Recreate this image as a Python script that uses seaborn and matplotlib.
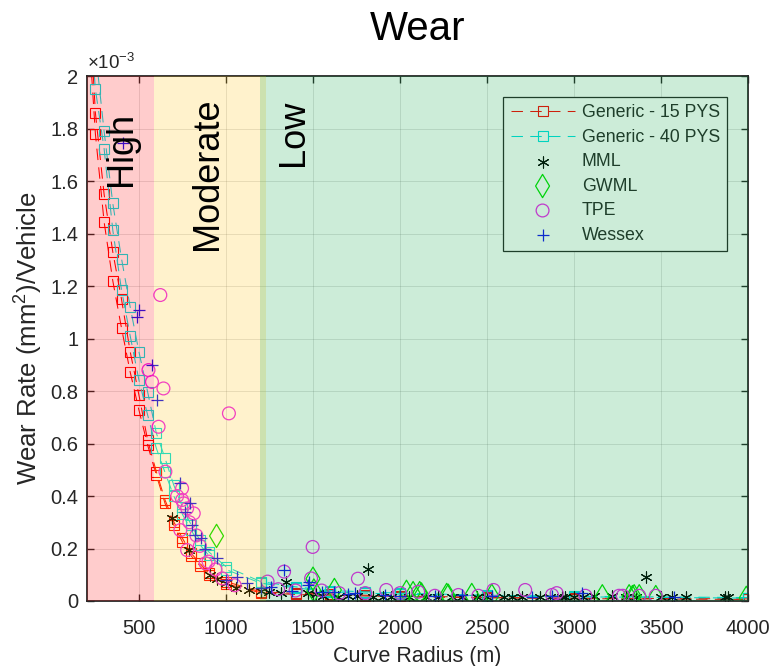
import matplotlib
matplotlib.use('Agg')
import matplotlib.pyplot as plt
import seaborn as sns
import numpy as np

# Generic curves (radius m, wear rate in 1e-3 mm^2/vehicle), two parallel curves each
gen_radius = [200, 250, 300, 350, 400, 450, 500, 550, 600, 650, 700, 750, 800, 850, 900,
              1000, 1200, 1400, 1600, 1800, 2000, 2500, 3000, 4000]
gen15_upper = [2.45, 1.86, 1.55, 1.33, 1.15, 0.95, 0.785, 0.613, 0.493, 0.385, 0.302, 0.239,
               0.182, 0.144, 0.106, 0.074, 0.035, 0.029, 0.027, 0.022, 0.019, 0.014, 0.011, 0.008]
gen15_lower = [2.30, 1.78, 1.445, 1.22, 1.04, 0.872, 0.728, 0.594, 0.48, 0.372, 0.29, 0.225,
               0.172, 0.135, 0.098, 0.066, 0.031, 0.025, 0.022, 0.019, 0.016, 0.012, 0.009, 0.006]
gen40_upper = [2.60, 2.10, 1.79, 1.515, 1.305, 1.12, 0.95, 0.797, 0.64, 0.544, 0.442, 0.359,
               0.29, 0.232, 0.188, 0.131, 0.074, 0.054, 0.04, 0.035, 0.03, 0.022, 0.018, 0.013]
gen40_lower = [2.40, 1.95, 1.724, 1.413, 1.185, 1.01, 0.842, 0.709, 0.582, 0.49, 0.40, 0.33,
               0.27, 0.215, 0.175, 0.12, 0.068, 0.05, 0.035, 0.03, 0.026, 0.02, 0.016, 0.011]

mml_x = [690, 787, 911, 950, 998, 1056, 1132, 1200, 1250, 1315, 1344, 1469, 1520, 1560, 1643,
         1700, 1750, 1816, 1845, 1900, 1950, 2050, 2150, 2220, 2300, 2354, 2440, 2500, 2600,
         2643, 2700, 2806, 2860, 2931, 2950, 3000, 3050, 3114, 3219, 3300, 3354, 3412, 3500,
         3560, 3642, 3864, 3883]
mml_y = [0.315, 0.194, 0.099, 0.085, 0.067, 0.048, 0.042, 0.04, 0.035, 0.03, 0.074, 0.03, 0.025,
         0.02, 0.016, 0.02, 0.018, 0.121, 0.016, 0.016, 0.016, 0.016, 0.016, 0.016, 0.015, 0.016,
         0.016, 0.015, 0.015, 0.016, 0.015, 0.016, 0.015, 0.016, 0.016, 0.015, 0.015, 0.02, 0.02,
         0.015, 0.016, 0.093, 0.014, 0.014, 0.016, 0.016, 0.016]

gwml_x = [946, 1500, 1505, 1623, 2037, 2075, 2113, 2123, 2268, 2277, 2412, 2527, 3162, 3316,
          3335, 3345, 3374, 3469, 3989]
gwml_y = [0.248, 0.085, 0.04, 0.042, 0.035, 0.03, 0.03, 0.025, 0.023, 0.02, 0.023, 0.02, 0.018,
          0.018, 0.015, 0.018, 0.018, 0.015, 0.012]

tpe_x = [555, 575, 613, 623, 641, 652, 720, 738, 748, 748, 757, 777, 777, 790, 815, 830, 850,
         883, 900, 940, 979, 1017, 1050, 1239, 1300, 1334, 1400, 1489, 1498, 1550, 1650, 1758,
         1800, 1921, 2000, 2104, 2200, 2335, 2450, 2537, 2719, 2873, 2900, 3065, 3258, 3280,
         3374, 3469]
tpe_y = [0.88, 0.835, 0.664, 1.166, 0.81, 0.493, 0.40, 0.27, 0.429, 0.385, 0.372, 0.353, 0.194,
         0.30, 0.334, 0.25, 0.21, 0.144, 0.15, 0.12, 0.086, 0.715, 0.06, 0.074, 0.045, 0.112, 0.04,
         0.086, 0.206, 0.04, 0.03, 0.085, 0.03, 0.042, 0.03, 0.035, 0.02, 0.023, 0.02, 0.042,
         0.042, 0.023, 0.03, 0.02, 0.02, 0.02, 0.02, 0.02]

wessex_x = [411, 488, 498, 575, 604, 738, 767, 796, 806, 820, 854, 880, 950, 1000, 1066, 1123,
            1200, 1258, 1334, 1380, 1469, 1479, 1550, 1623, 1700, 1739, 1913, 2000, 2200, 2354,
            2527, 2758, 2873, 3046, 3575]
wessex_y = [1.746, 1.083, 1.108, 0.899, 0.766, 0.448, 0.34, 0.372, 0.29, 0.25, 0.239, 0.2, 0.163,
            0.08, 0.093, 0.067, 0.05, 0.054, 0.118, 0.04, 0.061, 0.074, 0.035, 0.035, 0.025, 0.03,
            0.023, 0.02, 0.02, 0.023, 0.02, 0.016, 0.02, 0.03, 0.016]

# zones
zone_names = ['High', 'Moderate', 'Low']
zone_edges = [(200, 585), (585, 1230), (1195, 4000)]
zone_colors = [(1, 0, 0), (1, 0.75, 0), (0, 0.63, 0.24)]

sns.set_theme(style='ticks')
plt.rcParams['font.family'] = ['Liberation Sans', 'DejaVu Sans']
plt.rcParams['mathtext.fontset'] = 'custom'
plt.rcParams['mathtext.rm'] = 'Liberation Sans'
plt.rcParams['mathtext.it'] = 'Liberation Sans'

dark = '0.15'
fig = plt.figure(figsize=(7.81, 6.66), dpi=100)
ax = fig.add_axes([0.111, 0.0976, 0.847, 0.788])

dash = (0, (11, 7))
for ys, col, lab in [(gen15_upper, 'red', 'Generic - 15 PYS'), (gen15_lower, 'red', None),
                     (gen40_upper, '#00E0E0', 'Generic - 40 PYS'), (gen40_lower, '#00E0E0', None)]:
    sns.lineplot(x=gen_radius, y=ys, ax=ax, estimator=None, sort=False, color=col,
                 linestyle=dash, linewidth=0.75, marker='s', markersize=7.2,
                 markerfacecolor='none', markeredgecolor=col, markeredgewidth=0.8,
                 label=lab, legend=False, zorder=2)

sns.scatterplot(x=mml_x, y=mml_y, ax=ax, marker=(6, 2, 0), s=64, color='black',
                linewidth=0.8, label='MML', legend=False, zorder=2)
sns.scatterplot(x=gwml_x, y=gwml_y, ax=ax, marker='d', s=140, facecolor='none',
                edgecolor='#00E000', linewidth=0.9, label='GWML', legend=False, zorder=2)
sns.scatterplot(x=tpe_x, y=tpe_y, ax=ax, marker='o', s=85, facecolor='none',
                edgecolor='#F020F0', linewidth=0.9, label='TPE', legend=False, zorder=2)
sns.scatterplot(x=wessex_x, y=wessex_y, ax=ax, marker='+', s=85, color='#1010F0',
                linewidth=0.9, label='Wessex', legend=False, zorder=2)

ax.set_xlim(200, 4000)
ax.set_ylim(0, 2)
ax.set_xticks(np.arange(500, 4001, 500))
ax.set_yticks(np.arange(0, 2.01, 0.2))
ax.yaxis.set_major_formatter(matplotlib.ticker.FuncFormatter(lambda v, p: '%g' % round(v, 1)))
ax.tick_params(which='both', direction='in', top=True, right=True, length=5, width=1,
               color=dark, labelcolor=dark, labelsize=14.5)
ax.tick_params(axis='x', pad=13)
ax.tick_params(axis='y', pad=6)
ax.grid(True, color=dark, alpha=0.15, linewidth=0.6)
for s in ax.spines.values():
    s.set_color(dark)
    s.set_linewidth(1.3)

ax.set_xlabel('Curve Radius (m)', fontsize=15.5, color=dark, labelpad=6)
ax.set_ylabel('Wear Rate (mm$^2$)/Vehicle', fontsize=18.5, color=dark, labelpad=4)
ax.set_title('Wear', fontsize=29, pad=26, color='black')
ax.text(0, 1.006, r'$\times10^{-3}$', transform=ax.transAxes, ha='left', va='bottom',
        fontsize=13.5, color=dark)

leg = ax.legend(loc='upper right', bbox_to_anchor=(0.968, 0.96), fontsize=12.8,
                handlelength=3.6, handletextpad=0.4, labelspacing=0.42, borderpad=0.4,
                fancybox=False, framealpha=1, edgecolor=dark, borderaxespad=0)
leg.get_frame().set_linewidth(0.9)
leg.set_zorder(3)

# shaded zones on top of the data, as in the original
for (a, b), c in zip(zone_edges, zone_colors):
    ax.axvspan(a, b, color=c, alpha=0.2, lw=0, zorder=6)

zone_text_x = [398, 893, 1387]
zone_text_y = [1.865, 1.92, 1.91]
for name, tx, ty in zip(zone_names, zone_text_x, zone_text_y):
    ax.text(tx, ty, name, rotation=90, ha='center', va='top', fontsize=26,
            color='black', zorder=20)

fig.savefig('out.png', dpi=100)
